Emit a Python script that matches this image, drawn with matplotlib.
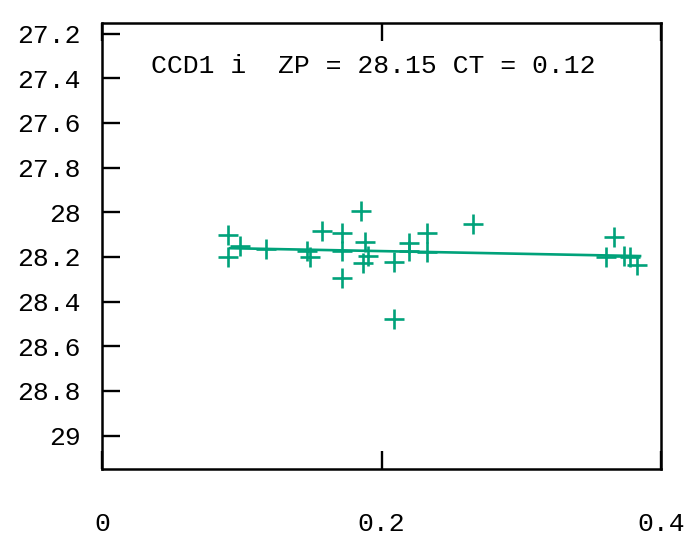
import matplotlib
matplotlib.use("Agg")
import matplotlib.pyplot as plt
import numpy as np

# data
color_index = [0.0900, 0.0900, 0.0988, 0.1174, 0.1469, 0.1485, 0.1572, 0.1720,
               0.1720, 0.1714, 0.1852, 0.1882, 0.1906, 0.1870, 0.2091, 0.2091,
               0.2200, 0.2200, 0.2329, 0.2329, 0.2657, 0.3666, 0.3603, 0.3738,
               0.3778, 0.3825]
zero_point = [28.101, 28.200, 28.149, 28.163, 28.174, 28.200, 28.086, 28.091,
              28.175, 28.294, 27.994, 28.135, 28.198, 28.229, 28.224, 28.480,
              28.138, 28.175, 28.091, 28.176, 28.053, 28.109, 28.200, 28.197,
              28.201, 28.234]
ZP = 28.15
CT = 0.12
fit_x = [0.0916, 0.385]
label = "CCD1 i  ZP = 28.15 CT = 0.12"
xticks = [0, 0.2, 0.4]
xticklabels = ["0", "0.2", "0.4"]
yticks = [27.2, 27.4, 27.6, 27.8, 28.0, 28.2, 28.4, 28.6, 28.8, 29.0]
yticklabels = ["27.2", "27.4", "27.6", "27.8", "28", "28.2", "28.4", "28.6", "28.8", "29"]

green = "#00a27a"
plt.rcParams['font.family'] = ['Liberation Mono', 'DejaVu Sans Mono']

fig = plt.figure(figsize=(6.93, 5.36), dpi=100)
ax = fig.add_axes([102/693, 1-469/536, (661-102)/693, (469-22.5)/536])

fx = np.array(fit_x)
ax.plot(fx, ZP + CT*fx, color=green, lw=1.9)
ax.plot(color_index, zero_point, linestyle='none', marker='+', ms=14.5,
        mew=1.9, color=green)

ax.set_xlim(0, 0.4)
ax.set_ylim(29.15, 27.15)
ax.set_xticks(xticks)
ax.set_xticklabels(xticklabels)
ax.set_yticks(yticks)
ax.set_yticklabels(yticklabels)

ax.tick_params(axis='y', direction='in', length=13, width=1.7, left=True, right=False,
               labelsize=19, pad=15.5)
ax.tick_params(axis='x', direction='in', length=13, width=1.7, top=True, bottom=True,
               labelsize=19, pad=31)
for s in ax.spines.values():
    s.set_linewidth(1.8)

ax.text(0.035, 27.375, label, fontsize=19, va='baseline', ha='left', color='black')

fig.savefig("out.png", dpi=100)
